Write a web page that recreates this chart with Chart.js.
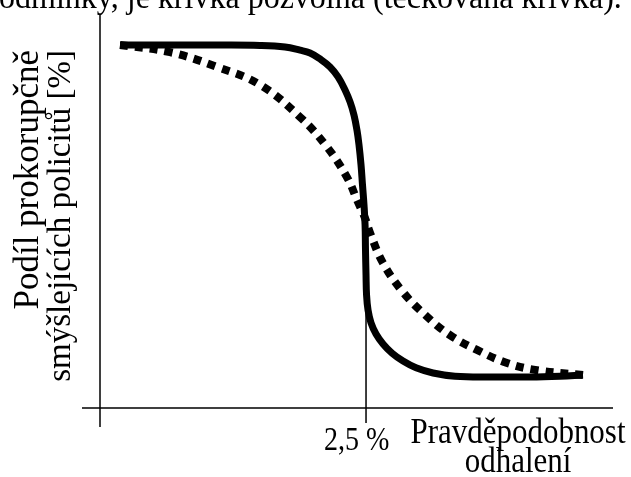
<!DOCTYPE html>
<html>
<head>
<meta charset="utf-8">
<script src="https://cdn.jsdelivr.net/npm/chart.js@4/dist/chart.umd.min.js"></script>
<style>
html,body{margin:0;padding:0;background:#fff;}
#c{display:block;}
</style>
</head>
<body>
<canvas id="c" width="631" height="477"></canvas>
<script>
// Solid curve (abrupt change at 2,5 %)
const solidX = [0.188,0.658,1.128,1.504,1.739,1.880,1.974,2.068,2.162,2.237,2.303,2.350,2.387,2.415,2.434,2.453,2.467,2.481,2.491,2.495,2.500,2.505,2.519,2.547,2.594,2.660,2.744,2.848,2.970,3.130,3.336,3.665,4.041,4.323,4.539];
const solidY = [91.2,91.2,91.2,91.1,90.7,89.9,89.2,87.7,85.7,83.2,79.9,76.9,73.6,69.8,66.1,61.1,56.0,51.0,46.0,39.7,33.4,28.4,24.6,21.4,18.6,16.1,13.8,11.8,10.1,8.8,8.0,7.8,7.8,8.0,8.3];
// Dotted curve (gradual change)
const dottedX = [0.188,0.658,1.100,1.504,1.880,2.133,2.321,2.415,2.491,2.538,2.660,2.848,3.055,3.289,3.543,3.825,4.107,4.539];
const dottedY = [91.2,89.4,85.7,81.2,73.1,65.6,58.0,52.3,47.7,44.0,36.4,29.1,23.4,18.3,14.6,11.3,9.5,8.3];
// Labels
const tickValue = 2.5;
const tickLabel = "2,5 %";
const xTitle = ["Pravděpodobnost", "odhalení"];
const yTitle = ["Podíl prokorupčně", "smýšlejících policitů [%]"];
const topText = "podmínky, je křivka pozvolná (tečkovaná křivka).";

const toPts = (xs, ys) => xs.map((x, i) => ({x: x, y: ys[i]}));

const decor = {
  id: 'decor',
  beforeDatasetsDraw(chart) {
    const ctx = chart.ctx;
    const xs = chart.scales.x, ys = chart.scales.y;
    const x0 = xs.getPixelForValue(0), y0 = ys.getPixelForValue(0);
    ctx.save();
    ctx.strokeStyle = '#000';
    ctx.lineWidth = 1.5;
    ctx.beginPath();
    ctx.moveTo(82, y0); ctx.lineTo(613, y0);
    ctx.moveTo(x0, 14); ctx.lineTo(x0, 427);
    const tx = xs.getPixelForValue(tickValue);
    ctx.moveTo(tx, ys.getPixelForValue(50)); ctx.lineTo(tx, 423);
    ctx.stroke();
    ctx.restore();
  },
  afterDraw(chart) {
    const ctx = chart.ctx;
    ctx.save();
    ctx.fillStyle = '#000';
    ctx.textBaseline = 'alphabetic';
    // top text (cut)
    ctx.font = '33px "Liberation Serif"';
    ctx.textAlign = 'left';
    ctx.save(); ctx.translate(-17, 8); ctx.scale(0.97, 1); ctx.fillText(topText, 0, 0); ctx.restore();
    // tick label
    ctx.save(); ctx.translate(324, 450); ctx.scale(0.85, 1);
    ctx.font = '33px "Liberation Serif"'; ctx.fillText(tickLabel, 0, 0); ctx.restore();
    // x title
    ctx.font = '36px "Liberation Serif"';
    ctx.save(); ctx.translate(518, 443); ctx.scale(0.86, 1); ctx.textAlign = 'center';
    ctx.fillText(xTitle[0], 0, 0); ctx.fillText(xTitle[1], 0, 29); ctx.restore();
    // y title
    ctx.save(); ctx.translate(38, 50); ctx.rotate(-Math.PI / 2);
    ctx.textAlign = 'right';
    ctx.font = '35px "Liberation Serif"';
    ctx.fillText(yTitle[0], 0, 0);
    ctx.font = '33px "Liberation Serif"';
    ctx.fillText(yTitle[1], 0, 32);
    ctx.restore();
    ctx.restore();
  }
};

new Chart(document.getElementById('c'), {
  type: 'scatter',
  data: {
    datasets: [
      {
        data: toPts(solidX, solidY),
        showLine: true,
        borderColor: '#000',
        borderWidth: 7,
        borderCapStyle: 'butt',
        borderJoinStyle: 'round',
        tension: 0.4,
        pointRadius: 0,
        fill: false
      },
      {
        data: toPts(dottedX, dottedY),
        showLine: true,
        borderColor: '#000',
        borderWidth: 8,
        borderDash: [8, 7],
        borderCapStyle: 'butt',
        tension: 0.4,
        pointRadius: 0,
        fill: false
      }
    ]
  },
  options: {
    responsive: false,
    animation: false,
    layout: {padding: {left: 100, right: 18, top: 10, bottom: 69}},
    plugins: {legend: {display: false}, tooltip: {enabled: false}},
    scales: {
      x: {type: 'linear', min: 0, max: 4.821, display: false},
      y: {type: 'linear', min: 0, max: 100, display: false}
    }
  },
  plugins: [decor]
});
</script>
</body>
</html>
